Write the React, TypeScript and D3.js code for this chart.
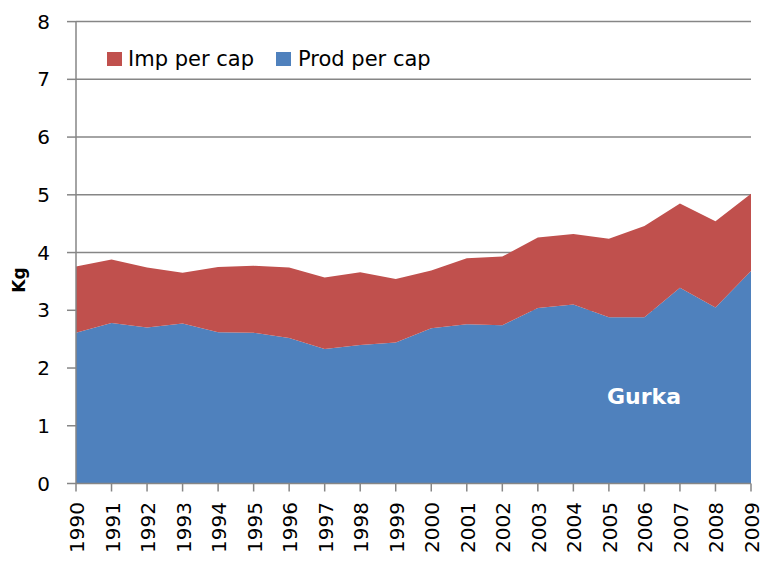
import React from 'react';
import { scaleLinear, area, stack } from 'd3';

const years = [1990, 1991, 1992, 1993, 1994, 1995, 1996, 1997, 1998, 1999, 2000, 2001, 2002, 2003, 2004, 2005, 2006, 2007, 2008, 2009];
const prodPerCap = [2.61, 2.78, 2.70, 2.77, 2.62, 2.61, 2.52, 2.33, 2.40, 2.44, 2.69, 2.76, 2.74, 3.04, 3.10, 2.88, 2.88, 3.39, 3.05, 3.68];
const totalPerCap = [3.76, 3.88, 3.74, 3.65, 3.75, 3.77, 3.74, 3.57, 3.66, 3.54, 3.69, 3.90, 3.93, 4.26, 4.32, 4.24, 4.46, 4.85, 4.54, 5.02];
const impPerCap = totalPerCap.map((t, i) => +(t - prodPerCap[i]).toFixed(2));
const yTicks = [0, 1, 2, 3, 4, 5, 6, 7, 8];
const seriesNames = ['Prod per cap', 'Imp per cap'];
const colors: Record<string, string> = { 'Prod per cap': '#4F81BD', 'Imp per cap': '#C0504D' };

const App: React.FC = () => {
  const width = 764;
  const height = 583;
  const left = 76;
  const right = 751;
  const top = 21.6;
  const bottom = 483.5;
  const font = '"DejaVu Sans", sans-serif';

  const x = scaleLinear().domain([years[0], years[years.length - 1]]).range([left, right]);
  const y = scaleLinear().domain([0, 8]).range([bottom, top]);

  const rows = years.map((yr, i) => ({ year: yr, 'Prod per cap': prodPerCap[i], 'Imp per cap': impPerCap[i] }));
  const layers = stack<any>().keys(seriesNames)(rows);
  const areaGen = area<any>()
    .x(d => x(d.data.year))
    .y0(d => y(d[0]))
    .y1(d => y(d[1]));

  return (
    <svg width={width} height={height} style={{ position: 'absolute', left: 0, top: 0 }}>
      <rect width={width} height={height} fill="#fff" />
      {yTicks.map(t => (
        <g key={t}>
          {t > 0 && <line x1={left} x2={right} y1={y(t)} y2={y(t)} stroke="#868686" strokeWidth={1.5} />}
          <line x1={left - 9} x2={left} y1={y(t)} y2={y(t)} stroke="#868686" strokeWidth={1.5} />
          <text x={50} y={y(t) + 7} textAnchor="end" fontFamily={font} fontSize={20} fill="#000">{t}</text>
        </g>
      ))}
      {layers.map(l => (
        <path key={l.key} d={areaGen(l) || ''} fill={colors[l.key]} />
      ))}
      <line x1={left} x2={left} y1={top} y2={bottom} stroke="#868686" strokeWidth={1.5} />
      <line x1={left} x2={right} y1={bottom} y2={bottom} stroke="#868686" strokeWidth={1.5} />
      {years.map(yr => (
        <g key={yr}>
          <line x1={x(yr)} x2={x(yr)} y1={bottom} y2={bottom + 8} stroke="#868686" strokeWidth={1.5} />
          <text
            transform={`translate(${x(yr) + 8},${502}) rotate(-90)`}
            textAnchor="end"
            fontFamily={font}
            fontSize={20}
            fill="#000"
          >{yr}</text>
        </g>
      ))}
      <text transform="translate(25,280) rotate(-90)" textAnchor="middle" fontFamily={font} fontWeight="bold" fontSize={17} fill="#000">Kg</text>
      <rect x={107} y={52} width={15} height={14} fill={colors['Imp per cap']} />
      <text x={128} y={66} fontFamily={font} fontSize={21} fill="#000">Imp per cap</text>
      <rect x={276} y={52} width={15} height={14} fill={colors['Prod per cap']} />
      <text x={298} y={66} fontFamily={font} fontSize={21} fill="#000">Prod per cap</text>
      <text x={607} y={404} fontFamily={font} fontWeight="bold" fontSize={22} fill="#fff">Gurka</text>
    </svg>
  );
};

export default App;
